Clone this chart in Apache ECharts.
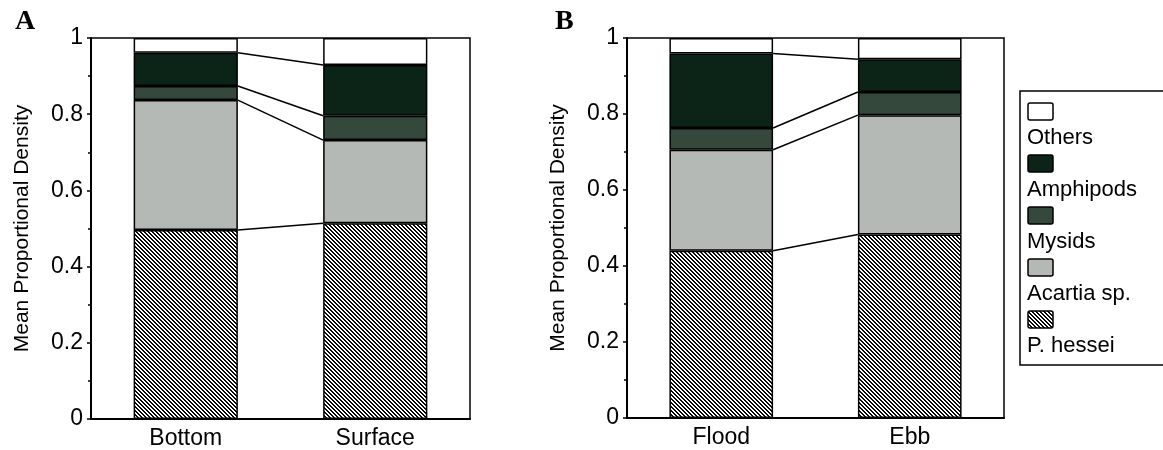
<!DOCTYPE html>
<html>
<head>
<meta charset="utf-8">
<script src="https://cdn.jsdelivr.net/npm/echarts@6/dist/echarts.min.js"></script>
<style>
  html, body { margin: 0; padding: 0; background: #fff; }
  #chart { width: 1163px; height: 450px; }
</style>
</head>
<body>
<div id="chart"></div>
<script>
// categories
const depthCats = ["Bottom", "Surface"];
const tideCats = ["Flood", "Ebb"];
const groupNames = ["P. hessei", "Acartia sp.", "Mysids", "Amphipods", "Others"];

// panel A (depth) - proportion of each group, bottom to top
const depthHessei = [0.496, 0.514];
const depthAcartia = [0.341, 0.218];
const depthMysids = [0.037, 0.064];
const depthAmphipods = [0.087, 0.133];
const depthOthers = [0.039, 0.071];

// panel B (tide)
const tideHessei = [0.44, 0.483];
const tideAcartia = [0.266, 0.314];
const tideMysids = [0.057, 0.061];
const tideAmphipods = [0.196, 0.086];
const tideOthers = [0.041, 0.056];

const yTicks = [0, 0.2, 0.4, 0.6, 0.8, 1];

// hatch for P. hessei
function makeHatch() {
  const c = document.createElement("canvas");
  c.width = 4;
  c.height = 4;
  const ctx = c.getContext("2d");
  ctx.fillStyle = "#fff";
  ctx.fillRect(0, 0, 4, 4);
  ctx.fillStyle = "#0a0a0a";
  for (let y = 0; y < 4; y++) {
    for (let x = 0; x < 4; x++) {
      if ((x - y + 8) % 4 < 2) ctx.fillRect(x, y, 1, 1);
    }
  }
  return c;
}
const hatch = { image: makeHatch(), repeat: "repeat" };

const fills = [hatch, "#b5b9b5", "#34493c", "#0c2317", "#ffffff"];
const BAR = 0.55;
const font = "Liberation Sans, Arial, sans-serif";

const chart = echarts.init(document.getElementById("chart"));

function barSeries(panel, idx, lists) {
  return lists.map((vals, i) => ({
    name: groupNames[i],
    type: "bar",
    stack: "s" + panel,
    xAxisIndex: idx,
    yAxisIndex: idx,
    barWidth: BAR * 100 + "%",
    data: vals,
    silent: true,
    itemStyle: { color: fills[i], borderColor: "#000", borderWidth: 1.5 },
  }));
}

// lines that join the tops of matching segments between the two bars
function connectors(idx, lists) {
  const data = [];
  let c0 = 0, c1 = 0;
  for (let i = 0; i < lists.length - 1; i++) {
    c0 += lists[i][0];
    c1 += lists[i][1];
    data.push([0, c0, c1]);
  }
  return {
    type: "custom",
    xAxisIndex: idx,
    yAxisIndex: idx,
    silent: true,
    z: 5,
    encode: { x: 0, y: 1 },
    data: data,
    renderItem: function (params, api) {
      const p0 = api.coord([0, api.value(1)]);
      const p1 = api.coord([1, api.value(2)]);
      const hw = (api.size([1, 0])[0] * BAR) / 2;
      return {
        type: "line",
        shape: { x1: p0[0] + hw, y1: p0[1], x2: p1[0] - hw, y2: p1[1] },
        style: { stroke: "#000", lineWidth: 1.5 },
      };
    },
  };
}

function xAxis(idx, cats) {
  return {
    type: "category",
    gridIndex: idx,
    data: cats,
    axisTick: { show: false },
    axisLine: { lineStyle: { color: "#000", width: 2 } },
    axisLabel: { color: "#000", fontSize: 23, fontFamily: font, margin: 8 },
  };
}

function yAxis(idx) {
  return {
    type: "value",
    gridIndex: idx,
    min: yTicks[0],
    max: yTicks[yTicks.length - 1],
    interval: 0.2,
    name: "Mean Proportional Density",
    nameLocation: "middle",
    nameGap: 58,
    nameTextStyle: { color: "#000", fontSize: 21, fontFamily: font },
    axisLine: { show: true, lineStyle: { color: "#000", width: 2 } },
    axisTick: { show: true, length: 4, lineStyle: { color: "#000", width: 1.5 } },
    minorTick: { show: true, splitNumber: 2, length: 3, lineStyle: { color: "#000", width: 1.5 } },
    splitLine: { show: false },
    axisLabel: { color: "#000", fontSize: 23, fontFamily: font, margin: 8 },
  };
}

// legend drawn as a box with swatch above each label
const legendOrder = [4, 3, 2, 1, 0];
const legendItems = [
  {
    type: "rect",
    shape: { x: 1020, y: 91, width: 170, height: 274 },
    style: { fill: "#fff", stroke: "#000", lineWidth: 1.5 },
  },
];
legendOrder.forEach((g, k) => {
  legendItems.push({
    type: "rect",
    shape: { x: 1028, y: 103 + k * 52, width: 25, height: 17, r: 2 },
    style: { fill: fills[g], stroke: "#000", lineWidth: 1.5 },
  });
  legendItems.push({
    type: "text",
    x: 1027,
    y: 138 + k * 52,
    style: {
      text: groupNames[g],
      fill: "#000",
      font: "22px " + font,
      verticalAlign: "middle",
    },
  });
});

const depthLists = [depthHessei, depthAcartia, depthMysids, depthAmphipods, depthOthers];
const tideLists = [tideHessei, tideAcartia, tideMysids, tideAmphipods, tideOthers];

chart.setOption({
  animation: false,
  title: [
    { text: "A", left: 10, top: 3, textStyle: { fontFamily: "Liberation Serif, serif", fontWeight: "bold", fontSize: 28, color: "#000" } },
    { text: "B", left: 550, top: 3, textStyle: { fontFamily: "Liberation Serif, serif", fontWeight: "bold", fontSize: 28, color: "#000" } },
  ],
  grid: [
    { left: 91, top: 38, width: 379, height: 381, show: true, borderColor: "#000", borderWidth: 1.5 },
    { left: 627, top: 38, width: 377, height: 380, show: true, borderColor: "#000", borderWidth: 1.5 },
  ],
  xAxis: [xAxis(0, depthCats), xAxis(1, tideCats)],
  yAxis: [yAxis(0), yAxis(1)],
  series: [
    ...barSeries("A", 0, depthLists),
    ...barSeries("B", 1, tideLists),
    connectors(0, depthLists),
    connectors(1, tideLists),
  ],
  graphic: legendItems,
});
</script>
</body>
</html>
